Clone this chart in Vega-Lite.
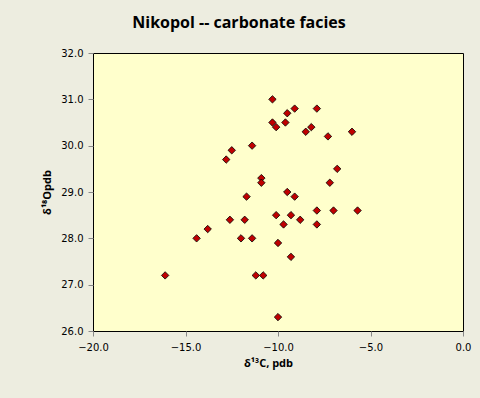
{
  "$schema": "https://vega.github.io/schema/vega-lite/v6.json",
  "width": 370,
  "height": 278,
  "autosize": {"type": "none"},
  "padding": {"left": 93, "top": 53, "right": 17, "bottom": 67},
  "background": "#EDEDE0",
  "title": {
    "text": "Nikopol -- carbonate facies",
    "font": "Open Sans",
    "fontSize": 16,
    "fontWeight": "bold",
    "color": "#000000",
    "anchor": "middle",
    "frame": "group",
    "dx": -39,
    "offset": 17
  },
  "config": {
    "view": {"fill": "#FFFFCC", "stroke": "#000000", "strokeWidth": 1},
    "axis": {
      "grid": false,
      "domain": false,
      "ticks": true,
      "labelFlush": false,
      "tickColor": "#888888",
      "tickSize": 5,
      "labelFont": "DejaVu Sans",
      "labelFontSize": 10,
      "labelColor": "#000000",
      "titleFont": "Open Sans",
      "titleFontSize": 11,
      "titleFontWeight": "bold",
      "titleColor": "#000000"
    }
  },
  "data": {
    "values": [
      {"d13C": -16.1, "d18O": 27.2},
      {"d13C": -14.4, "d18O": 28.0},
      {"d13C": -13.8, "d18O": 28.2},
      {"d13C": -12.6, "d18O": 28.4},
      {"d13C": -12.8, "d18O": 29.7},
      {"d13C": -12.5, "d18O": 29.9},
      {"d13C": -12.0, "d18O": 28.0},
      {"d13C": -11.8, "d18O": 28.4},
      {"d13C": -11.7, "d18O": 28.9},
      {"d13C": -11.4, "d18O": 30.0},
      {"d13C": -11.4, "d18O": 28.0},
      {"d13C": -11.2, "d18O": 27.2},
      {"d13C": -10.8, "d18O": 27.2},
      {"d13C": -10.9, "d18O": 29.3},
      {"d13C": -10.9, "d18O": 29.2},
      {"d13C": -10.3, "d18O": 31.0},
      {"d13C": -10.3, "d18O": 30.5},
      {"d13C": -10.1, "d18O": 30.4},
      {"d13C": -10.1, "d18O": 28.5},
      {"d13C": -10.0, "d18O": 27.9},
      {"d13C": -10.0, "d18O": 26.3},
      {"d13C": -9.7, "d18O": 28.3},
      {"d13C": -9.6, "d18O": 30.5},
      {"d13C": -9.5, "d18O": 30.7},
      {"d13C": -9.5, "d18O": 29.0},
      {"d13C": -9.3, "d18O": 28.5},
      {"d13C": -9.3, "d18O": 27.6},
      {"d13C": -9.1, "d18O": 28.9},
      {"d13C": -9.1, "d18O": 30.8},
      {"d13C": -8.8, "d18O": 28.4},
      {"d13C": -8.5, "d18O": 30.3},
      {"d13C": -8.2, "d18O": 30.4},
      {"d13C": -7.9, "d18O": 30.8},
      {"d13C": -7.9, "d18O": 28.6},
      {"d13C": -7.9, "d18O": 28.3},
      {"d13C": -7.3, "d18O": 30.2},
      {"d13C": -7.2, "d18O": 29.2},
      {"d13C": -7.0, "d18O": 28.6},
      {"d13C": -6.8, "d18O": 29.5},
      {"d13C": -6.0, "d18O": 30.3},
      {"d13C": -5.7, "d18O": 28.6}
    ]
  },
  "mark": {
    "type": "point",
    "shape": "diamond",
    "filled": true,
    "fill": "#C00000",
    "stroke": "#000000",
    "strokeWidth": 0.8,
    "size": 55,
    "opacity": 1
  },
  "encoding": {
    "x": {
      "field": "d13C",
      "type": "quantitative",
      "scale": {"domain": [-20, 0], "nice": false, "zero": false},
      "axis": {
        "values": [-20, -15, -10, -5, 0],
        "format": ".1f",
        "labelPadding": 6,
        "title": "δ¹³C, pdb",
        "titlePadding": 5,
        "titleX": 175
      }
    },
    "y": {
      "field": "d18O",
      "type": "quantitative",
      "scale": {"domain": [26, 32], "nice": false, "zero": false},
      "axis": {
        "values": [26, 27, 28, 29, 30, 31, 32],
        "format": ".1f",
        "labelPadding": 5,
        "title": "δ¹⁸Opdb",
        "titlePadding": 8
      }
    }
  }
}
